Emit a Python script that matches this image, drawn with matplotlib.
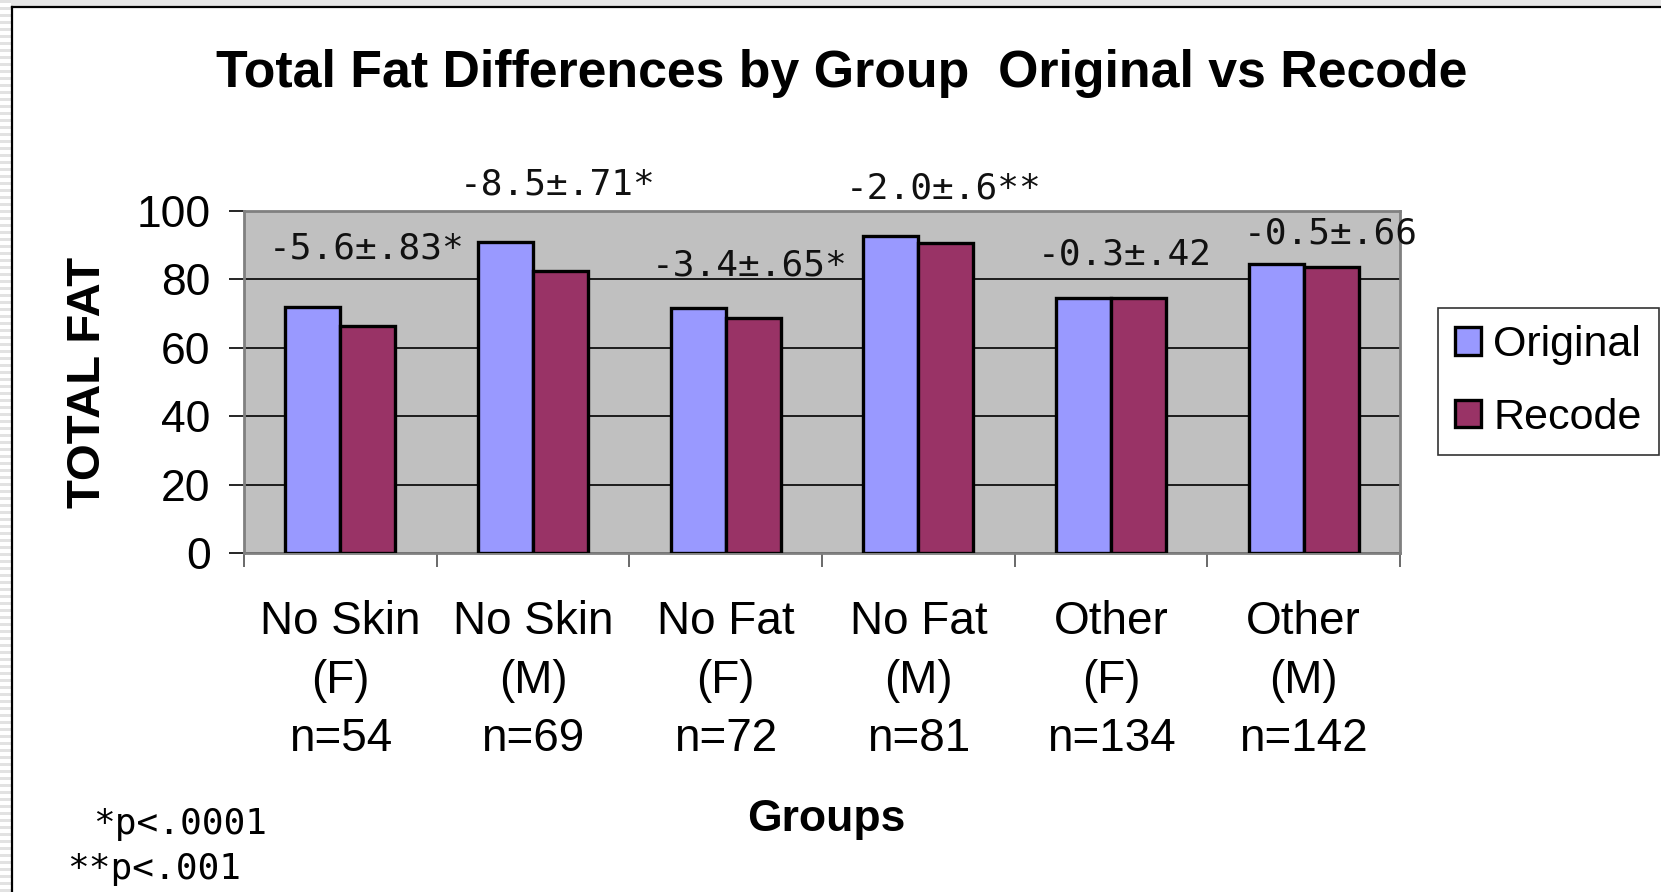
import matplotlib
matplotlib.use("Agg")
import matplotlib.pyplot as plt
from matplotlib.patches import Rectangle
from matplotlib.lines import Line2D
import numpy as np

# ---- data ----
categories = ["No Skin\n(F)\nn=54", "No Skin\n(M)\nn=69", "No Fat\n(F)\nn=72",
              "No Fat\n(M)\nn=81", "Other\n(F)\nn=134", "Other\n(M)\nn=142"]
original = [71.8, 90.9, 71.6, 92.7, 74.6, 84.6]
recode = [66.4, 82.6, 68.6, 90.7, 74.6, 83.5]
diff_labels = ["-5.6\u00b1.83*", "-8.5\u00b1.71*", "-3.4\u00b1.65*",
               "-2.0\u00b1.6**", "-0.3\u00b1.42", "-0.5\u00b1.66"]
series_names = ["Original", "Recode"]
yticks = [0, 20, 40, 60, 80, 100]
footnotes = ["*p<.0001", "**p<.001"]

# annotation positions (x offset from category centre, y in data units)
label_dx = [0.137, 0.13, 0.126, 0.13, 0.073, 0.14]
label_y = [88.9, 107.7, 84.2, 106.5, 87.3, 93.5]

W, H = 1661, 892
fig = plt.figure(figsize=(W / 100, H / 100), dpi=100)
fig.patch.set_facecolor("white")

def fx(px):
    return px / W

def fy(py):
    return 1 - py / H

# decorative outer frame / stripes
for yy in range(0, H, 7):
    fig.patches.append(Rectangle((0, fy(yy + 3)), fx(11), 3 / H, transform=fig.transFigure,
                                 facecolor="#e2e2e2", edgecolor="none", zorder=0))
fig.patches.append(Rectangle((fx(11), fy(6)), 1, 6 / H, transform=fig.transFigure,
                             facecolor="#e6e6e6", edgecolor="none", zorder=0))
fig.lines.append(Line2D([fx(12), fx(12)], [0, fy(7)], transform=fig.transFigure,
                        color="black", lw=1.6))
fig.lines.append(Line2D([fx(12), 1], [fy(7), fy(7)], transform=fig.transFigure,
                        color="black", lw=1.6))

left, right, top, bottom = 244, 1400, 211, 553
ax = fig.add_axes([fx(left), fy(bottom), fx(right - left), (bottom - top) / H])
ax.set_facecolor("#c0c0c0")

n = len(categories)
x = np.arange(n)
bw = 0.286
ax.bar(x - bw / 2, original, width=bw, color="#9999ff", edgecolor="black",
       linewidth=2.4, label=series_names[0], zorder=3)
ax.bar(x + bw / 2, recode, width=bw, color="#993366", edgecolor="black",
       linewidth=2.4, label=series_names[1], zorder=3)

ax.set_xlim(-0.5, n - 0.5)
ax.set_ylim(0, 100)
ax.set_yticks(yticks)
ax.yaxis.grid(True, color="black", linewidth=1.2, zorder=1)
ax.set_axisbelow(True)

for s in ["top", "right", "left", "bottom"]:
    ax.spines[s].set_color("#808080")
    ax.spines[s].set_linewidth(2)

ax.tick_params(axis="y", direction="out", length=11, width=1.2, pad=13,
               labelsize=32, labelfontfamily="Liberation Sans")
ax.set_xticks(x)
ax.set_xticklabels(categories, fontsize=33, family="Liberation Sans", linespacing=1.42)
ax.tick_params(axis="x", which="major", length=0, pad=34)
ax.set_xticks(np.arange(n + 1) - 0.5, minor=True)
ax.tick_params(axis="x", which="minor", direction="out", length=10, width=1.2, color="#505050")

for i in range(n):
    ax.text(x[i] + label_dx[i], label_y[i], diff_labels[i], ha="center", va="center",
            fontsize=26, family="DejaVu Sans Mono", color="#111111", clip_on=False, zorder=4)

ax.set_ylabel("TOTAL FAT", fontsize=34, fontweight="bold", family="Liberation Sans")
ax.yaxis.set_label_coords((88 - left) / (right - left), 0.5)
ax.yaxis.label.set_va("center")

fig.text(fx(842), fy(73), "Total Fat Differences by Group  Original vs Recode",
         ha="center", va="center", fontsize=37.4, fontweight="bold", family="Liberation Sans")
fig.text(fx(826), fy(819), "Groups", ha="center", va="center", fontsize=32,
         fontweight="bold", family="Liberation Sans")

fig.text(fx(93), fy(824), footnotes[0], ha="left", va="center", fontsize=26,
         family="DejaVu Sans Mono")
fig.text(fx(67), fy(869), footnotes[1], ha="left", va="center", fontsize=26,
         family="DejaVu Sans Mono")

leg = fig.legend(loc="upper left", bbox_to_anchor=(fx(1438), fy(308)),
                 bbox_transform=fig.transFigure, prop={"family": "Liberation Sans", "size": 31},
                 frameon=True, fancybox=False, edgecolor="black", handlelength=0.6,
                 handleheight=0.6, handletextpad=0.28, labelspacing=0.75,
                 borderpad=0.4, borderaxespad=0)
leg.get_frame().set_linewidth(1.2)

fig.savefig("out.png", dpi=100, facecolor="white")
